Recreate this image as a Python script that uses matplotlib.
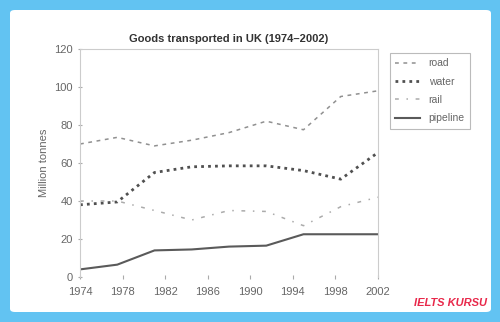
import matplotlib.pyplot as plt
from matplotlib.patches import FancyBboxPatch

plt.rcParams['font.family'] = ['Liberation Sans', 'DejaVu Sans']

years = [1974, 1977.5, 1981, 1984.5, 1988, 1991.5, 1995, 1998.5, 2002]
road = [70, 73.5, 69, 72, 76, 82, 77.5, 95, 98]
water = [38, 39.5, 55, 58, 58.5, 58.5, 56, 51.5, 65.5]
rail = [40, 40, 35, 30, 35, 34.5, 27, 37, 42]
pipeline = [4, 6.5, 14, 14.5, 16, 16.5, 22.5, 22.5, 22.5]
x_ticks = [1974, 1978, 1982, 1986, 1990, 1994, 1998, 2002]
y_ticks = [0, 20, 40, 60, 80, 100, 120]

fig = plt.figure(figsize=(5, 3.22), dpi=100)
fig.patch.set_facecolor('#62c3f2')

# white card behind the chart
card = FancyBboxPatch((10 / 500, 10 / 322), 481 / 500, 302 / 322,
                      boxstyle='round,pad=0,rounding_size=0.01',
                      transform=fig.transFigure, facecolor='white',
                      edgecolor='none', zorder=-5)
fig.patches.append(card)

ax = fig.add_axes([80 / 500, 1 - 277 / 322, 298 / 500, 228 / 322])
ax.set_facecolor('none')
ax.set_zorder(2)

ax.plot(years, road, color='#909090', lw=1.1, ls=(0, (2.5, 3)), label='road')
ax.plot(years, water, color='#505050', lw=2.0, ls=(0, (1, 1.5)), label='water')
ax.plot(years, rail, color='#ababab', lw=1.1, ls=(0, (2.5, 5, 1, 5)), label='rail')
ax.plot(years, pipeline, color='#5a5a5a', lw=1.5, label='pipeline')

ax.set_xlim(1974, 2002)
ax.set_ylim(0, 120)
ax.set_xticks(x_ticks)
ax.set_yticks(y_ticks)
ax.tick_params(colors='#aaaaaa', labelcolor='#666666', labelsize=8,
               length=3, direction='inout', width=0.8)
ax.tick_params(axis='x', pad=6)
for side in ['top', 'right', 'left']:
    ax.spines[side].set_color('#cccccc')
    ax.spines[side].set_linewidth(0.8)
ax.spines['bottom'].set_visible(False)

ax.set_ylabel('Million tonnes', fontsize=8, color='#666666', labelpad=4)
ax.set_title('Goods transported in UK (1974\u20132002)', fontsize=8,
             color='#333333', fontweight='semibold', pad=5, x=0.5)

leg = fig.legend(loc='upper left', bbox_to_anchor=(385 / 500, 1 - 48 / 322),
                 fontsize=7.5, frameon=True, fancybox=False,
                 handlelength=2.4, labelspacing=0.8, borderpad=0.5)
leg.get_frame().set_edgecolor('#aaaaaa')
leg.get_frame().set_linewidth(0.8)
for t in leg.get_texts():
    t.set_color('#666666')

fig.text(450 / 500, 1 - 303 / 322, 'IELTS KURSU', color='#e8284a',
         fontsize=8, fontweight='bold', fontstyle='italic',
         ha='center', va='center')

fig.savefig('out.png', dpi=100)
